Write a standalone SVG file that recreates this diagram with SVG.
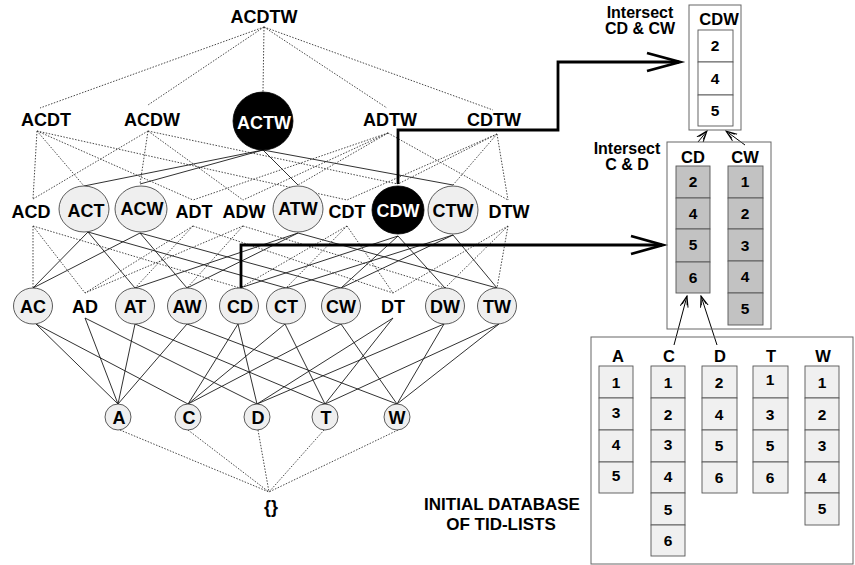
<svg xmlns="http://www.w3.org/2000/svg" width="855" height="565" viewBox="0 0 855 565">
<defs>
<style>
.t{font-family:"Liberation Sans",Arial,Helvetica,sans-serif;font-weight:bold;font-size:18px;text-anchor:middle;fill:#000}
.tw{fill:#fff}
.sm{font-size:15.5px}
.hd{font-size:16.5px}
.md{font-size:16px}
.big{font-size:17px}
.fq{fill:#efefef;stroke:#333;stroke-width:0.8}
.bk{fill:#000;stroke:#000;stroke-width:0.8}
.sol{stroke:#1a1a1a;stroke-width:0.9;fill:none}
.dot{stroke:#333;stroke-width:0.9;stroke-dasharray:1.5 1.5;fill:none}
.thick{stroke:#000;stroke-width:2.8;fill:none;stroke-linejoin:miter}
.thin{stroke:#000;stroke-width:1;fill:none}
.box{fill:none;stroke:#666;stroke-width:1}
.cl{fill:#f0f0f0;stroke:#555;stroke-width:0.9}
.cg{fill:#c2c2c2;stroke:#555;stroke-width:0.9}
.cw{fill:#fff;stroke:#555;stroke-width:0.9}
</style>
<marker id="ah" viewBox="0 0 12 10" refX="11" refY="5" markerWidth="12" markerHeight="10" markerUnits="userSpaceOnUse" orient="auto">
<path d="M0,1 L11,5 L0,9 M2,2.5 L11,5 L2,7.5" fill="none" stroke="#000" stroke-width="1"/>
</marker>
</defs>
<rect width="855" height="565" fill="#fff"/>

<g id="connectors">
<path class="dot" d="M264,27 L40,108 M264,27 L148,105 M264,27 L263,92 M264,27 L387,108 M264,27 L493,110"/>
<path class="dot" d="M37,131 L33,199 M37,131 L84,186 M37,131 L193,200 M37,131 L347,200"/>
<path class="dot" d="M148,131 L33,199 M148,131 L140,184 M148,131 L243,200 M148,131 L398,184"/>
<path class="sol" d="M263,150 L84,186 M263,150 L140,184 M263,150 L298,185 M263,150 L453,185"/>
<path class="dot" d="M388,133 L193,200 M388,133 L243,200 M388,133 L298,185 M388,133 L508,200"/>
<path class="dot" d="M497,134 L347,200 M497,134 L398,184 M497,134 L453,185 M497,134 L508,200"/>
<path class="dot" d="M33,226 L33,288 M33,226 L85,293 M33,226 L240,288"/>
<path class="sol" d="M88,232 L33,288 M88,232 L135,288 M88,232 L286,288"/>
<path class="sol" d="M140,233 L33,288 M140,233 L187,288 M140,233 L341,288"/>
<path class="dot" d="M193,226 L85,293 M193,226 L135,288 M193,226 L393,293"/>
<path class="dot" d="M243,226 L85,293 M243,226 L187,288 M243,226 L445,288"/>
<path class="sol" d="M298,233 L135,288 M298,233 L187,288 M298,233 L497,288"/>
<path class="dot" d="M347,226 L240,288 M347,226 L286,288 M347,226 L393,293"/>
<path class="sol" d="M398,236 L240,288 M398,236 L341,288 M398,236 L445,288"/>
<path class="sol" d="M453,235 L286,288 M453,235 L341,288 M453,235 L497,288"/>
<path class="dot" d="M508,226 L393,293 M508,226 L445,288 M508,226 L497,288"/>
<path class="sol" d="M36,324 L118,404 M36,324 L188,404
M85,318 L118,404 M85,318 L257,404
M135,324 L118,404 M135,324 L325,404
M187,324 L118,404 M187,324 L397,404
M238,324 L188,404 M238,324 L257,404
M285,324 L188,404 M285,324 L325,404
M341,324 L188,404 M341,324 L397,404
M393,318 L257,404 M393,318 L325,404
M444,324 L257,404 M444,324 L397,404
M499,324 L325,404 M499,324 L397,404"/>
<path class="dot" d="M120,430 L269,492 M188,430 L269,492 M258,430 L269,492 M324,430 L269,492 M398,430 L269,492"/>
<path class="thick" d="M398,184 V130 H558 V62 H679"/>
<path class="thick" d="M647,53 L680,62 L647,71"/>
<path class="thick" d="M241,288 V245 H662"/>
<path class="thick" d="M631,236 L663,245 L631,254"/>
<path class="thin" d="M698,142 L707,131" marker-end="url(#ah)"/>
<path class="thin" d="M745,145 L726,131" marker-end="url(#ah)"/>
<path class="thin" d="M674,345 L687,296" marker-end="url(#ah)"/>
<path class="thin" d="M717,345 L701,296" marker-end="url(#ah)"/>
</g>

<g id="n-ACDTW"><text class="t" x="264" y="23">ACDTW</text></g>
<g id="n-ACDT"><text class="t" x="46" y="126">ACDT</text></g>
<g id="n-ACDW"><text class="t" x="152" y="126">ACDW</text></g>
<g id="n-ACTW"><ellipse class="bk" cx="263" cy="121" rx="30" ry="29"/><text class="t tw" x="264" y="129">ACTW</text></g>
<g id="n-ADTW"><text class="t" x="390" y="126">ADTW</text></g>
<g id="n-CDTW"><text class="t" x="494" y="126">CDTW</text></g>

<g id="n-ACD"><text class="t" x="31" y="218">ACD</text></g>
<g id="n-ACT"><ellipse class="fq" cx="84" cy="209" rx="25" ry="23"/><text class="t" x="86" y="217">ACT</text></g>
<g id="n-ACW"><ellipse class="fq" cx="141" cy="209" rx="26" ry="23"/><text class="t" x="142" y="215">ACW</text></g>
<g id="n-ADT"><text class="t" x="194" y="218">ADT</text></g>
<g id="n-ADW"><text class="t" x="244" y="218">ADW</text></g>
<g id="n-ATW"><ellipse class="fq" cx="298" cy="209" rx="25" ry="23"/><text class="t" x="298" y="215">ATW</text></g>
<g id="n-CDT"><text class="t" x="347" y="218">CDT</text></g>
<g id="n-CDW"><ellipse class="bk" cx="398" cy="210" rx="26" ry="24"/><text class="t tw" x="398" y="217">CDW</text></g>
<g id="n-CTW"><ellipse class="fq" cx="453" cy="210" rx="25" ry="24"/><text class="t" x="453" y="217">CTW</text></g>
<g id="n-DTW"><text class="t" x="509" y="218">DTW</text></g>

<g id="n-AC"><ellipse class="fq" cx="33" cy="306" rx="19.5" ry="18"/><text class="t" x="33" y="313">AC</text></g>
<g id="n-AD"><text class="t" x="85" y="313">AD</text></g>
<g id="n-AT"><ellipse class="fq" cx="135" cy="306" rx="19.5" ry="18"/><text class="t" x="135" y="313">AT</text></g>
<g id="n-AW"><ellipse class="fq" cx="187" cy="306" rx="19.5" ry="18"/><text class="t" x="187" y="313">AW</text></g>
<g id="n-CD"><ellipse class="fq" cx="239" cy="306" rx="19.5" ry="18"/><text class="t" x="240" y="313">CD</text></g>
<g id="n-CT"><ellipse class="fq" cx="286" cy="306" rx="19.5" ry="18"/><text class="t" x="286" y="313">CT</text></g>
<g id="n-CW"><ellipse class="fq" cx="341" cy="306" rx="19.5" ry="18"/><text class="t" x="341" y="313">CW</text></g>
<g id="n-DT"><text class="t" x="393" y="313">DT</text></g>
<g id="n-DW"><ellipse class="fq" cx="445" cy="306" rx="19.5" ry="18"/><text class="t" x="445" y="313">DW</text></g>
<g id="n-TW"><ellipse class="fq" cx="497" cy="306" rx="19.5" ry="18"/><text class="t" x="497" y="313">TW</text></g>

<g id="n-A"><circle class="fq" cx="118" cy="417" r="13"/><text class="t" x="119" y="424">A</text></g>
<g id="n-C"><circle class="fq" cx="188" cy="417" r="13"/><text class="t" x="189" y="424">C</text></g>
<g id="n-D"><circle class="fq" cx="257" cy="417" r="13"/><text class="t" x="258" y="424">D</text></g>
<g id="n-T"><circle class="fq" cx="325" cy="417" r="13"/><text class="t" x="326" y="424">T</text></g>
<g id="n-W"><circle class="fq" cx="397" cy="417" r="13"/><text class="t" x="397" y="424">W</text></g>
<g id="n-empty"><text class="t" x="271" y="513">{}</text></g>

<g id="n-intersect1">
<text class="t md" x="640" y="18">Intersect</text>
<text class="t md" x="640" y="34">CD &amp; CW</text>
</g>
<g id="n-CDW-list">
<rect class="box" x="689" y="5" width="52" height="125"/>
<text class="t hd" x="719" y="25">CDW</text>
<rect class="cw" x="698" y="30" width="35" height="32"/>
<rect class="cw" x="698" y="62" width="35" height="33"/>
<rect class="cw" x="698" y="95" width="35" height="31"/>
<text class="t sm" x="715" y="51">2</text>
<text class="t sm" x="715" y="84">4</text>
<text class="t sm" x="715" y="116">5</text>
</g>

<g id="n-intersect2">
<text class="t md" x="627" y="154">Intersect</text>
<text class="t md" x="627" y="170">C &amp; D</text>
</g>
<g id="n-CD-CW-lists">
<rect class="box" x="667" y="142" width="104" height="187"/>
<text class="t hd" x="693" y="163">CD</text>
<text class="t hd" x="745" y="163">CW</text>
<rect class="cg" x="676" y="166" width="34" height="32"/>
<rect class="cg" x="676" y="198" width="34" height="31"/>
<rect class="cg" x="676" y="229" width="34" height="33"/>
<rect class="cg" x="676" y="262" width="34" height="31"/>
<text class="t sm" x="693" y="187">2</text>
<text class="t sm" x="693" y="219">4</text>
<text class="t sm" x="693" y="250">5</text>
<text class="t sm" x="693" y="283">6</text>
<rect class="cg" x="728" y="166" width="35" height="32"/>
<rect class="cg" x="728" y="198" width="35" height="31"/>
<rect class="cg" x="728" y="229" width="35" height="32"/>
<rect class="cg" x="728" y="261" width="35" height="32"/>
<rect class="cg" x="728" y="293" width="35" height="32"/>
<text class="t sm" x="745" y="187">1</text>
<text class="t sm" x="745" y="219">2</text>
<text class="t sm" x="745" y="251">3</text>
<text class="t sm" x="745" y="282">4</text>
<text class="t sm" x="745" y="314">5</text>
</g>

<g id="n-database">
<rect class="box" x="591" y="337" width="262" height="227"/>
<text class="t hd" x="618" y="362">A</text>
<text class="t hd" x="669" y="362">C</text>
<text class="t hd" x="720" y="362">D</text>
<text class="t hd" x="771" y="362">T</text>
<text class="t hd" x="823" y="362">W</text>
<rect class="cl" x="599" y="366" width="34" height="32"/>
<rect class="cl" x="599" y="398" width="34" height="32"/>
<rect class="cl" x="599" y="430" width="34" height="32"/>
<rect class="cl" x="599" y="462" width="34" height="31"/>
<text class="t sm" x="616" y="388">1</text>
<text class="t sm" x="616" y="418">3</text>
<text class="t sm" x="616" y="450">4</text>
<text class="t sm" x="616" y="481">5</text>
<rect class="cl" x="651" y="366" width="34" height="32"/>
<rect class="cl" x="651" y="398" width="34" height="32"/>
<rect class="cl" x="651" y="430" width="34" height="32"/>
<rect class="cl" x="651" y="462" width="34" height="31"/>
<rect class="cl" x="651" y="493" width="34" height="32"/>
<rect class="cl" x="651" y="525" width="34" height="31"/>
<text class="t sm" x="668" y="388">1</text>
<text class="t sm" x="668" y="420">2</text>
<text class="t sm" x="668" y="450">3</text>
<text class="t sm" x="668" y="482">4</text>
<text class="t sm" x="668" y="515">5</text>
<text class="t sm" x="668" y="546">6</text>
<rect class="cl" x="702" y="366" width="35" height="32"/>
<rect class="cl" x="702" y="398" width="35" height="32"/>
<rect class="cl" x="702" y="430" width="35" height="32"/>
<rect class="cl" x="702" y="462" width="35" height="31"/>
<text class="t sm" x="719" y="388">2</text>
<text class="t sm" x="719" y="420">4</text>
<text class="t sm" x="719" y="451">5</text>
<text class="t sm" x="719" y="483">6</text>
<rect class="cl" x="753" y="366" width="35" height="32"/>
<rect class="cl" x="753" y="398" width="35" height="32"/>
<rect class="cl" x="753" y="430" width="35" height="32"/>
<rect class="cl" x="753" y="462" width="35" height="31"/>
<text class="t sm" x="770" y="385">1</text>
<text class="t sm" x="770" y="420">3</text>
<text class="t sm" x="770" y="451">5</text>
<text class="t sm" x="770" y="483">6</text>
<rect class="cl" x="805" y="366" width="34" height="32"/>
<rect class="cl" x="805" y="398" width="34" height="32"/>
<rect class="cl" x="805" y="430" width="34" height="32"/>
<rect class="cl" x="805" y="462" width="34" height="31"/>
<rect class="cl" x="805" y="493" width="34" height="32"/>
<text class="t sm" x="822" y="388">1</text>
<text class="t sm" x="822" y="420">2</text>
<text class="t sm" x="822" y="451">3</text>
<text class="t sm" x="822" y="483">4</text>
<text class="t sm" x="822" y="514">5</text>
</g>
<g id="n-db-label">
<text class="t big" x="502" y="510">INITIAL DATABASE</text>
<text class="t big" x="501" y="530">OF TID-LISTS</text>
</g>
</svg>
